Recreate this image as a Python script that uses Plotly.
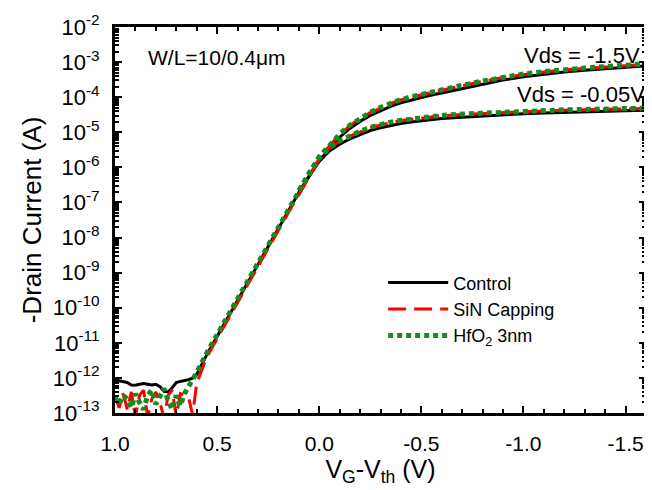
import plotly.graph_objects as go

# ---------------- data ----------------
# gate overdrive V_G - V_th (V)
vg_floor = [1.00, 0.98, 0.96, 0.94, 0.92, 0.90, 0.88, 0.86, 0.84, 0.82, 0.80,
            0.78, 0.76, 0.74, 0.72, 0.70, 0.68, 0.66, 0.64, 0.62, 0.60]
vg_main = [0.55, 0.50, 0.45, 0.40, 0.35, 0.30, 0.25, 0.20, 0.15, 0.10, 0.05,
           0.00, -0.05, -0.10, -0.15, -0.20, -0.25, -0.30, -0.35, -0.40, -0.45,
           -0.50, -0.55, -0.60, -0.70, -0.80, -0.90, -1.00, -1.10, -1.20, -1.30,
           -1.40, -1.50, -1.60]
vg_hi = [0.10, 0.05, 0.00, -0.05, -0.10, -0.15, -0.20, -0.25, -0.30, -0.35,
         -0.40, -0.45, -0.50, -0.55, -0.60, -0.70, -0.80, -0.90, -1.00, -1.10,
         -1.20, -1.30, -1.40, -1.50, -1.60]

# log10(-Id / A), Vds = -0.05 V (full sweep)
control_lo = [-12.06, -12.08, -12.10, -12.13, -12.20, -12.21, -12.18, -12.16, -12.18, -12.20, -12.18,
              -12.25, -12.38, -12.40, -12.28, -12.13, -12.10, -12.08, -12.05, -12.01, -11.90,
              -11.33, -10.82, -10.30, -9.79, -9.27, -8.76, -8.24, -7.73, -7.21, -6.72, -6.25,
              -5.83, -5.53, -5.34, -5.19, -5.06, -4.95, -4.87, -4.80, -4.75, -4.71,
              -4.67, -4.64, -4.61, -4.57, -4.53, -4.50, -4.47, -4.45, -4.43, -4.41,
              -4.39, -4.38, -4.37]
sin_lo = [-12.50, -12.85, -12.45, -12.90, -12.40, -13.10, -12.50, -12.35, -13.10, -12.60, -12.40,
          -12.70, -13.15, -12.50, -12.35, -13.10, -12.45, -12.50, -12.55, -13.05, -12.15,
          -11.40, -10.89, -10.37, -9.86, -9.34, -8.83, -8.31, -7.80, -7.28, -6.78, -6.26,
          -5.78, -5.45, -5.26, -5.11, -4.98, -4.87, -4.79, -4.72, -4.67, -4.63,
          -4.59, -4.56, -4.53, -4.49, -4.46, -4.43, -4.41, -4.39, -4.37, -4.36,
          -4.34, -4.33, -4.32]
hfo2_lo = [-12.55, -12.75, -12.50, -12.60, -12.85, -12.45, -12.70, -12.90, -12.50, -12.35, -12.75,
           -12.55, -12.30, -12.65, -12.90, -12.50, -12.80, -12.45, -12.25, -12.10, -11.85,
           -11.28, -10.77, -10.25, -9.74, -9.22, -8.71, -8.19, -7.68, -7.16, -6.66, -6.18,
           -5.74, -5.44, -5.25, -5.10, -4.97, -4.86, -4.78, -4.71, -4.66, -4.62,
           -4.58, -4.55, -4.52, -4.48, -4.45, -4.42, -4.40, -4.38, -4.36, -4.35,
           -4.33, -4.32, -4.31]

# log10(-Id / A), Vds = -1.5 V (above threshold, where it separates)
control_hi = [-6.72, -6.24, -5.80, -5.48, -5.14, -4.89, -4.69, -4.52, -4.38, -4.26, -4.16, -4.08,
              -4.01, -3.94, -3.88, -3.75, -3.63, -3.51, -3.42, -3.34, -3.28, -3.23, -3.19,
              -3.15, -3.11]
sin_hi = [-6.78, -6.25, -5.74, -5.39, -5.06, -4.81, -4.61, -4.44, -4.30, -4.18, -4.08, -4.00,
          -3.93, -3.86, -3.80, -3.67, -3.55, -3.44, -3.35, -3.28, -3.22, -3.18, -3.14,
          -3.10, -3.06]
hfo2_hi = [-6.66, -6.17, -5.70, -5.38, -5.05, -4.80, -4.60, -4.43, -4.29, -4.17, -4.07, -3.99,
           -3.92, -3.85, -3.79, -3.66, -3.54, -3.43, -3.34, -3.27, -3.21, -3.17, -3.13,
           -3.09, -3.05]

series_names = ["Control", "SiN Capping", "HfO<sub>2</sub> 3nm"]
y_exponents = [-13, -12, -11, -10, -9, -8, -7, -6, -5, -4, -3, -2]
x_ticks = [1.0, 0.5, 0.0, -0.5, -1.0, -1.5]
x_ticklabels = ["1.0", "0.5", "0.0", "-0.5", "-1.0", "-1.5"]

# ---------------- figure ----------------
FONT = "Liberation Sans, Arial, Helvetica, sans-serif"
vg_lo = vg_floor + vg_main
styles = [
    dict(color="black", width=3, dash="solid"),
    dict(color="#ff0000", width=3, dash="18px,8px"),
    dict(color="#1a8a1a", width=5, dash="5px,4px"),
]
lo_sets = [control_lo, sin_lo, hfo2_lo]
hi_sets = [control_hi, sin_hi, hfo2_hi]

fig = go.Figure()
for name, st, lo, hi in zip(series_names, styles, lo_sets, hi_sets):
    fig.add_trace(go.Scatter(x=vg_lo, y=[10 ** v for v in lo], mode="lines",
                             name=name, legendgroup=name, line=st))
    fig.add_trace(go.Scatter(x=vg_hi, y=[10 ** v for v in hi], mode="lines",
                             name=name, legendgroup=name, showlegend=False, line=st))

minor_vals = [m * 10.0 ** e for e in range(-13, -2) for m in range(2, 10)]

# the page body adds an 8px margin, so the figure is 8px smaller and shifted
fig.update_layout(
    width=644, height=482,
    margin=dict(l=107, r=3, t=18, b=77),
    paper_bgcolor="white", plot_bgcolor="white",
    font=dict(family=FONT, size=21, color="black"),
    showlegend=True,
    legend=dict(x=0.505, y=0.385, xanchor="left", yanchor="top",
                bgcolor="rgba(0,0,0,0)", font=dict(size=18, family=FONT),
                itemwidth=60, tracegroupgap=0),
    xaxis=dict(range=[1.0, -1.6], tickmode="array", tickvals=x_ticks, ticktext=x_ticklabels,
               ticks="inside", ticklen=7, tickwidth=2, tickcolor="black",
               showline=True, linewidth=3, linecolor="black", mirror="allticks",
               showgrid=False, zeroline=False, ticklabelstandoff=10,
               ticklabeloverflow="allow",
               tickfont=dict(size=21),
               minor=dict(dtick=0.1, ticks="inside", ticklen=4, tickwidth=2, tickcolor="black",
                          showgrid=False),
               title=dict(text="V<sub>G</sub>-V<sub>th</sub> (V)", font=dict(size=25), standoff=4)),
    yaxis=dict(type="log", range=[-13, -2], tickmode="array",
               tickvals=[10.0 ** e for e in y_exponents],
               ticktext=["10<sup>%d</sup>" % e for e in y_exponents],
               ticks="inside", ticklen=7, tickwidth=2, tickcolor="black",
               showline=True, linewidth=3, linecolor="black", mirror="allticks",
               showgrid=False, zeroline=False, ticklabelstandoff=8,
               tickfont=dict(size=22),
               minor=dict(tickmode="array", tickvals=minor_vals, ticks="inside", ticklen=4,
                          tickwidth=1.5, tickcolor="black", showgrid=False),
               title=dict(text="-Drain Current (A)", font=dict(size=26), standoff=4)),
    annotations=[
        dict(text="W/L=10/0.4\u03bcm", xref="paper", yref="paper", x=0.058, y=0.92,
             xanchor="left", yanchor="middle", showarrow=False, font=dict(size=21)),
        dict(text="Vds = -1.5V", xref="paper", yref="paper", x=0.992, y=0.925,
             xanchor="right", yanchor="middle", showarrow=False, font=dict(size=22)),
        dict(text="Vds = -0.05V", xref="paper", yref="paper", x=1.002, y=0.825,
             xanchor="right", yanchor="middle", showarrow=False, font=dict(size=22)),
    ],
)

fig.write_html("out.html")
